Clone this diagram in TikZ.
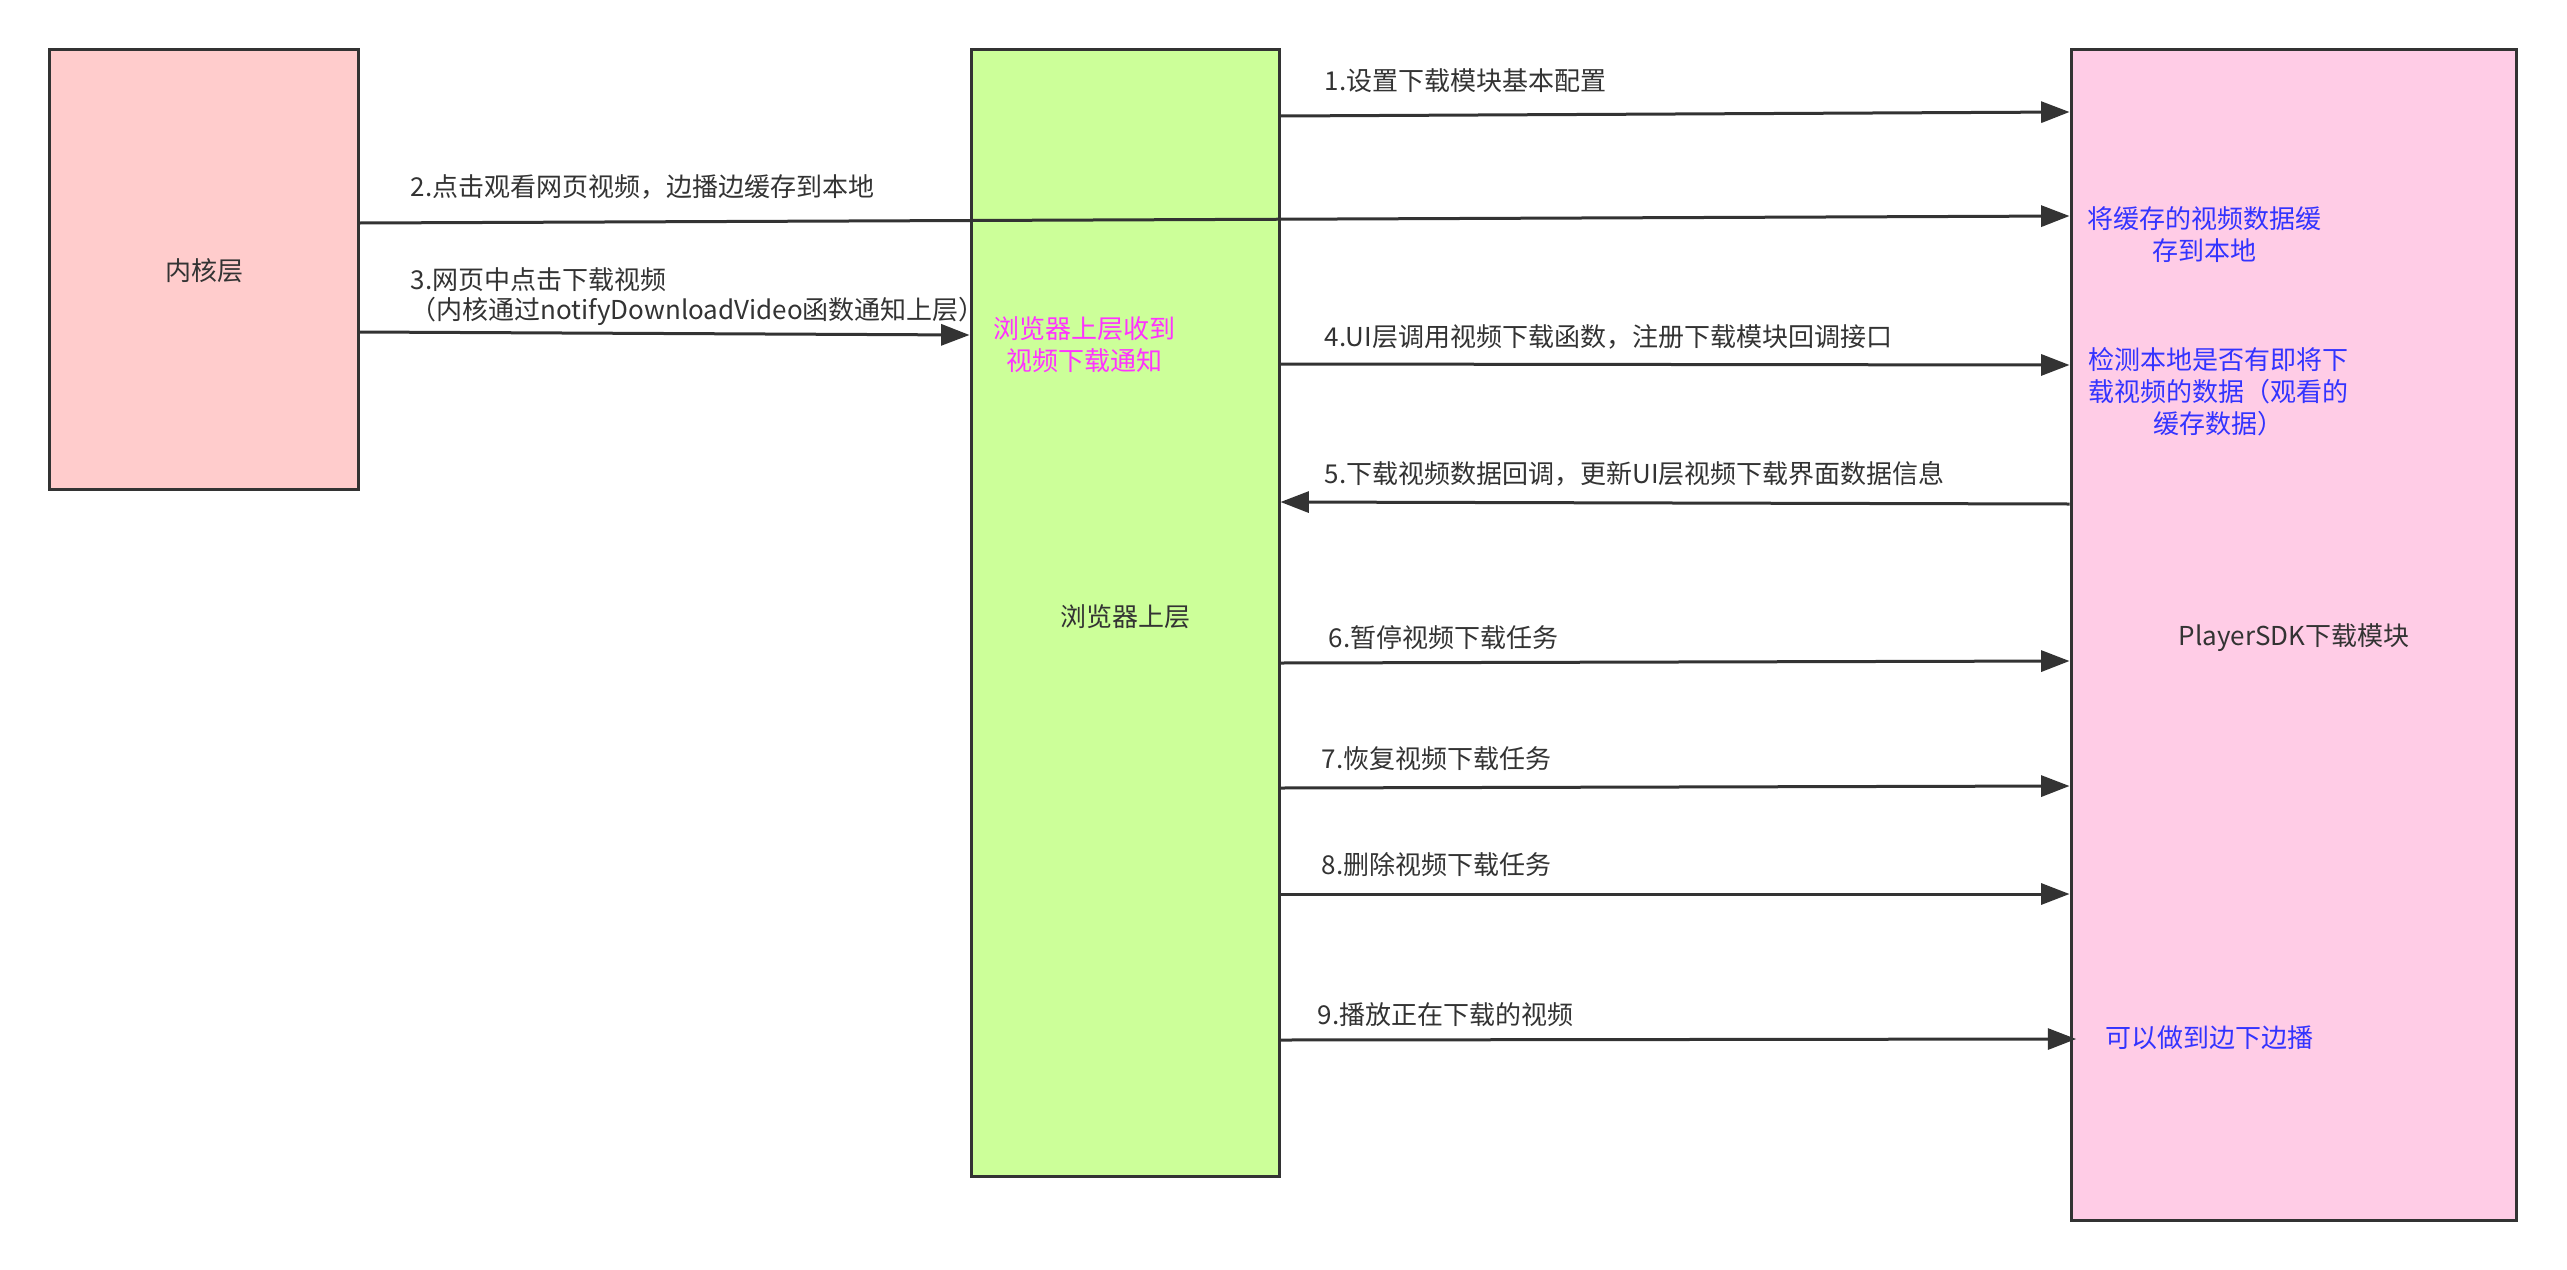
\documentclass[tikz,border=0pt]{standalone}
\usepackage{fontspec}
\setmainfont{Noto Sans CJK SC}
\usetikzlibrary{arrows.meta}
\definecolor{stroke}{HTML}{333333}
\definecolor{kfill}{HTML}{FFCCCC}
\definecolor{gfill}{HTML}{CCFF99}
\definecolor{pfill}{HTML}{FFCCE6}
\definecolor{bluetxt}{HTML}{3333FF}
\definecolor{magtxt}{HTML}{FF33FF}
\tikzset{
  box/.style={draw=stroke, line width=0.9pt, inner sep=0pt, text=stroke},
  lbl/.style={anchor=west, inner sep=0pt, text=stroke},
  note/.style={inner sep=0pt, align=center, text=bluetxt},
  arr/.style={draw=stroke, line width=0.9pt, -{Triangle[length=8.5pt,width=6.3pt]}},
}
\begin{document}
\begin{tikzpicture}[x=0.3pt,y=-0.3pt,font=\fontsize{7.8pt}{9.6pt}\selectfont]
\path[use as bounding box, fill=white] (0,0) rectangle (2567,1270);
% boxes
\node[box, fill=kfill, minimum width=92.7pt, minimum height=132pt] (kern) at (203.5,269) {};
\node[box, fill=gfill, minimum width=92.4pt, minimum height=338.1pt] (brow) at (1125,612.5) {};
\node[box, fill=pfill, minimum width=133.5pt, minimum height=351.3pt] (sdk) at (2293.5,634.5) {};
% box texts
\node[inner sep=0pt, text=stroke] (kernt) at (204,271) {内核层};
\node[inner sep=0pt, text=stroke] (browt) at (1125,617) {浏览器上层};
\node[inner sep=0pt, text=stroke] (sdkt) at (2294,638) {PlayerSDK下载模块};
\node[note, text=magtxt] (browin) at (1084,345) {浏览器上层收到\\视频下载通知};
\node[note] (n1) at (2204,235) {将缓存的视频数据缓\\存到本地};
\node[note] (n2) at (2218,392) {检测本地是否有即将下\\载视频的数据（观看的\\缓存数据）};
\node[note] (n3) at (2209,1038) {可以做到边下边播};
% arrows
\draw[arr] (brow.east |- 0,116) -- (sdk.west |- 0,112);
\draw[arr] (kern.east |- 0,223) -- (sdk.west |- 0,216);
\draw[arr] (kern.east |- 0,332) -- (brow.west |- 0,335);
\draw[arr] (brow.east |- 0,364) -- (sdk.west |- 0,365);
\draw[arr] (sdk.west |- 0,504) -- (brow.east |- 0,502);
\draw[arr] (brow.east |- 0,663) -- (sdk.west |- 0,661);
\draw[arr] (brow.east |- 0,788) -- (sdk.west |- 0,786);
\draw[arr] (brow.east |- 0,894) -- (sdk.west |- 0,894);
\draw[arr] (brow.east |- 0,1040) -- ([xshift=2pt]sdk.west |- 0,1039);
% labels
\node[lbl] (l1) at (1324,81) {1.设置下载模块基本配置};
\node[lbl] (l2) at (410,187) {2.点击观看网页视频，边播边缓存到本地};
\node[lbl] (l3a) at (410,280) {3.网页中点击下载视频};
\node[lbl] (l3b) at (410,311) {（内核通过notifyDownloadVideo函数通知上层）};
\node[lbl] (l4) at (1324,337) {4.UI层调用视频下载函数，注册下载模块回调接口};
\node[lbl] (l5) at (1324,474) {5.下载视频数据回调，更新UI层视频下载界面数据信息};
\node[lbl] (l6) at (1328,638) {6.暂停视频下载任务};
\node[lbl] (l7) at (1321,759) {7.恢复视频下载任务};
\node[lbl] (l8) at (1321,865) {8.删除视频下载任务};
\node[lbl] (l9) at (1317,1015) {9.播放正在下载的视频};
\end{tikzpicture}
\end{document}
